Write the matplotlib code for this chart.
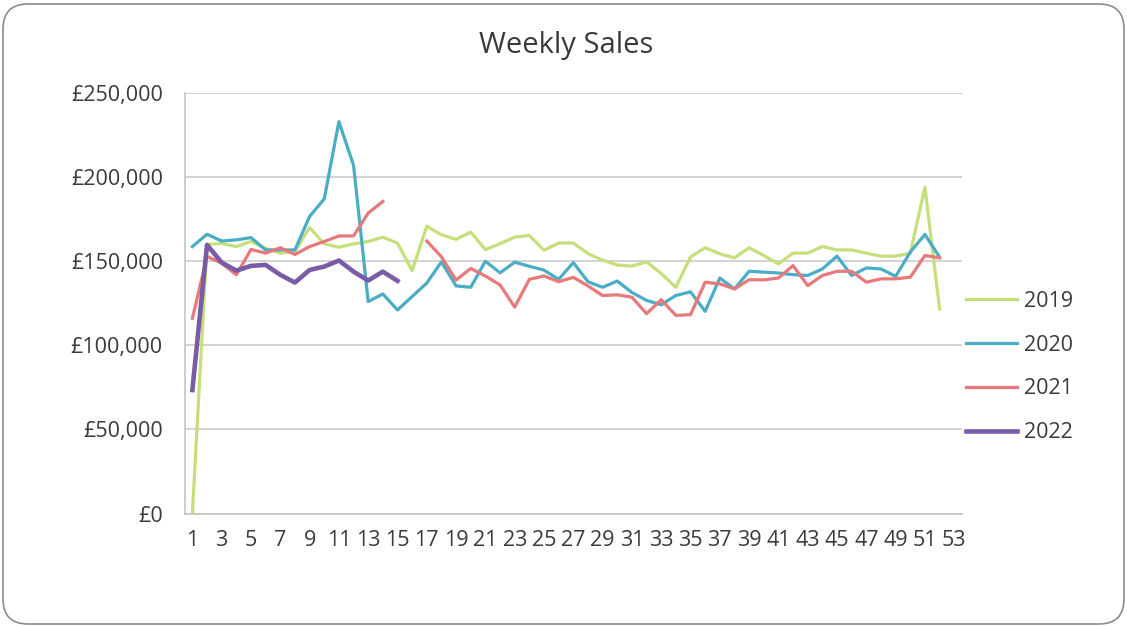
import numpy as np
import matplotlib
matplotlib.use("Agg")
import matplotlib.pyplot as plt
from matplotlib.patches import FancyBboxPatch
from matplotlib.transforms import IdentityTransform
from matplotlib.ticker import FuncFormatter

weeks = list(range(1, 53))

sales_2019 = [0, 160000, 160500, 158700, 161700, 157700, 154800, 155700, 170000, 160300,
              158300, 160300, 161700, 164300, 160700, 144400, 170800, 165700, 163000, 167300,
              156900, 160400, 164300, 165300, 156500, 160800, 160800, 154500, 150600, 147700,
              147100, 149600, 142700, 134500, 152500, 158000, 154400, 152000, 158000, 153400,
              148400, 154800, 154800, 158700, 156700, 156700, 154800, 153000, 153000, 154800,
              194000, 121600]
sales_2020 = [158700, 166000, 162000, 162700, 164000, 156700, 156700, 156700, 176600, 187000,
              233000, 207000, 126000, 130500, 121000, 129000, 137000, 149600, 135300, 134500,
              150000, 143100, 149400, 147000, 144700, 139200, 149200, 137800, 134500, 138200,
              131400, 126700, 124100, 129600, 131800, 120200, 140000, 133500, 144000, 143500,
              143000, 142000, 141500, 145400, 153000, 141500, 146000, 145400, 141000, 155400,
              165900, 152400]
sales_2021 = [116000, 152800, 148800, 141900, 157000, 154800, 158000, 154000, 158700, 161700,
              165000, 165000, 178600, 185500, np.nan, np.nan, 162000, 152600, 138800, 145700,
              141200, 135900, 122700, 139200, 141200, 137800, 140400, 135300, 129600, 130000,
              128600, 118800, 127100, 117800, 118200, 137500, 136500, 133500, 139000, 138900,
              140000, 147400, 135500, 141500, 144000, 144000, 137500, 139500, 139500, 140500,
              153400, 152000]
sales_2022 = [73400, 159700, 149200, 144400, 147200, 147800, 141900, 137300, 144800, 146800,
              150400, 143800, 138500, 143800, 138300]

plt.rcParams["font.family"] = ["Open Sans", "DejaVu Sans"]

fig = plt.figure(figsize=(11.27, 6.27), dpi=100, facecolor="white")
ax = fig.add_axes([0.1642, 0.181, 0.689, 0.6707])

ax.plot(weeks, sales_2019, color="#C5DF7B", lw=2.3, label="2019")
ax.plot(weeks, sales_2020, color="#4BACC6", lw=2.3, label="2020")
ax.plot(weeks, sales_2021, color="#E8797B", lw=2.3, label="2021")
ax.plot(weeks[:len(sales_2022)], sales_2022, color="#7A5CA6", lw=3.3, label="2022")

ax.set_xlim(0.5, 53.5)
ax.set_ylim(0, 250000)
ax.set_xticks(range(1, 54, 2))
ax.set_yticks(range(0, 250001, 50000))
ax.yaxis.set_major_formatter(FuncFormatter(lambda v, p: "£{:,.0f}".format(v)))
ax.grid(axis="y", color="#C8C8C8", lw=1.1)
ax.set_axisbelow(True)
for s in ["top", "right"]:
    ax.spines[s].set_visible(False)
for s in ["left", "bottom"]:
    ax.spines[s].set_color("#C0C0C0")
    ax.spines[s].set_linewidth(1.1)
ax.tick_params(length=0, labelsize=15.5, colors="#3A3A3A")
ax.tick_params(axis="y", pad=16)
ax.tick_params(axis="x", pad=12)

fig.text(0.502, 0.928, "Weekly Sales", ha="center", va="center", fontsize=21, color="#3A3A3A")

ax.legend(loc="upper left", bbox_to_anchor=(955 / 1127, 1 - 280 / 627), bbox_transform=fig.transFigure,
          frameon=False, fontsize=15.5, handlelength=2.4, handletextpad=0.3, labelspacing=1.06,
          labelcolor="#3A3A3A", borderpad=0)

fig.patches.append(FancyBboxPatch((3, 3), 1121, 620, boxstyle="round,pad=0,rounding_size=25",
                                  transform=IdentityTransform(), fill=False, ec="#8C8C8C", lw=1.2))

fig.savefig("out.png", dpi=100, facecolor="white")
